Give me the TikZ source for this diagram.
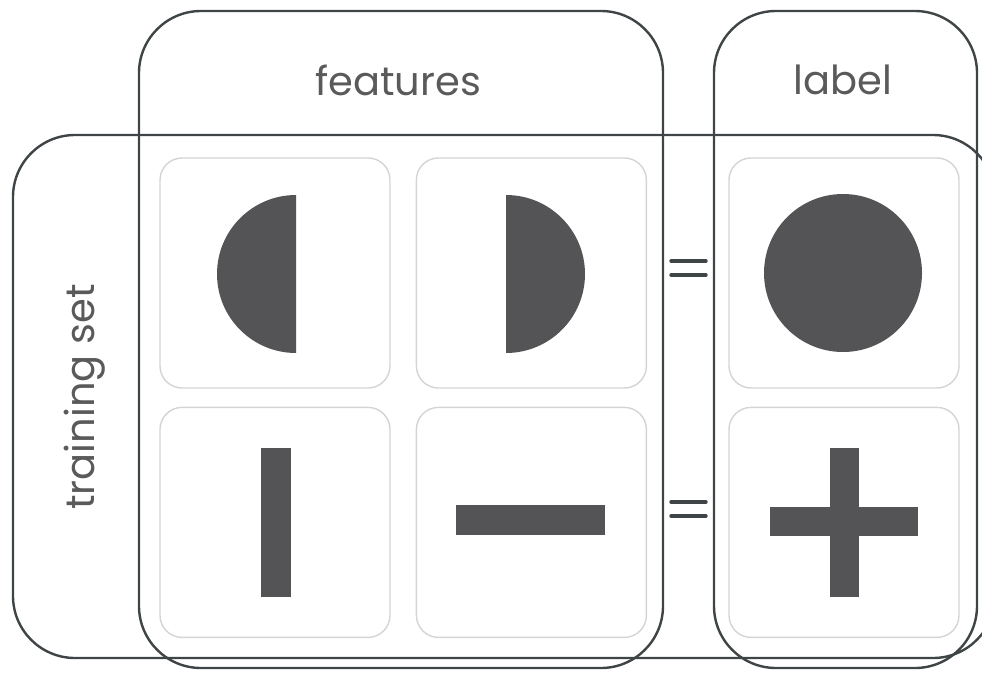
\documentclass[tikz,border=0pt]{standalone}
\usepackage{fontspec}
\setmainfont{Poppins}
\usetikzlibrary{positioning,calc}

\definecolor{frame}{HTML}{3F4446}
\definecolor{cellline}{HTML}{D4D4D4}
\definecolor{ink}{HTML}{545356}
\definecolor{txt}{HTML}{5A5A5A}

\tikzset{
  groupbox/.style={draw=frame, line width=2.4pt, rounded corners=62pt},
  cellbox/.style={draw=cellline, line width=1.4pt, rounded corners=22pt,
    minimum width=230pt, minimum height=230pt, inner sep=0pt},
  glyph/.style={fill=ink, draw=none},
  eqbar/.style={draw=frame, line width=3.4pt, line cap=round},
  heading/.style={text=txt, font=\fontsize{40}{44}\selectfont},
}

\begin{document}
\begin{tikzpicture}[x=1pt, y=-1pt]
  \useasboundingbox (0,0) rectangle (982,672);
  \def\R{79}

  % the three groups
  \draw[groupbox] (13,135) rectangle (995,658);  % training set
  \draw[groupbox] (139,11) rectangle (663,668);  % features
  \draw[groupbox] (714,11) rectangle (977,668);  % label

  \node[heading] (feat) at (398,80) {features};
  \node[heading] (lab) at (843,80) {label};
  \node[heading, rotate=90] (train) at (85,397) {training set};

  % cells
  \node[cellbox] (c11) at (275,273) {};
  \node[cellbox, right=25pt of c11] (c12) {};
  \node[cellbox] (c13) at (844,273) {};
  \node[cellbox, below=18pt of c11] (c21) {};
  \node[cellbox, below=18pt of c12] (c22) {};
  \node[cellbox, below=18pt of c13] (c23) {};

  % first row: two halves make a disc
  \begin{scope}
    \clip (210,190) rectangle (296,360);
    \fill[glyph] (296,274) circle (\R);
  \end{scope}
  \begin{scope}
    \clip (506,190) rectangle (600,360);
    \fill[glyph] (506,274) circle (\R);
  \end{scope}
  \fill[glyph] (843,273) circle (\R);

  % second row: two bars make a cross
  \fill[glyph] (261,448) rectangle (291,597);
  \fill[glyph] (456,505) rectangle (605,535);
  \fill[glyph] (830,448) rectangle (859,597);
  \fill[glyph] (770,507) rectangle (918,536);

  % equal signs
  \draw[eqbar] (671,261) -- (706,261);
  \draw[eqbar] (671,275) -- (706,275);
  \draw[eqbar] (671,502) -- (706,502);
  \draw[eqbar] (671,516) -- (706,516);
\end{tikzpicture}
\end{document}
